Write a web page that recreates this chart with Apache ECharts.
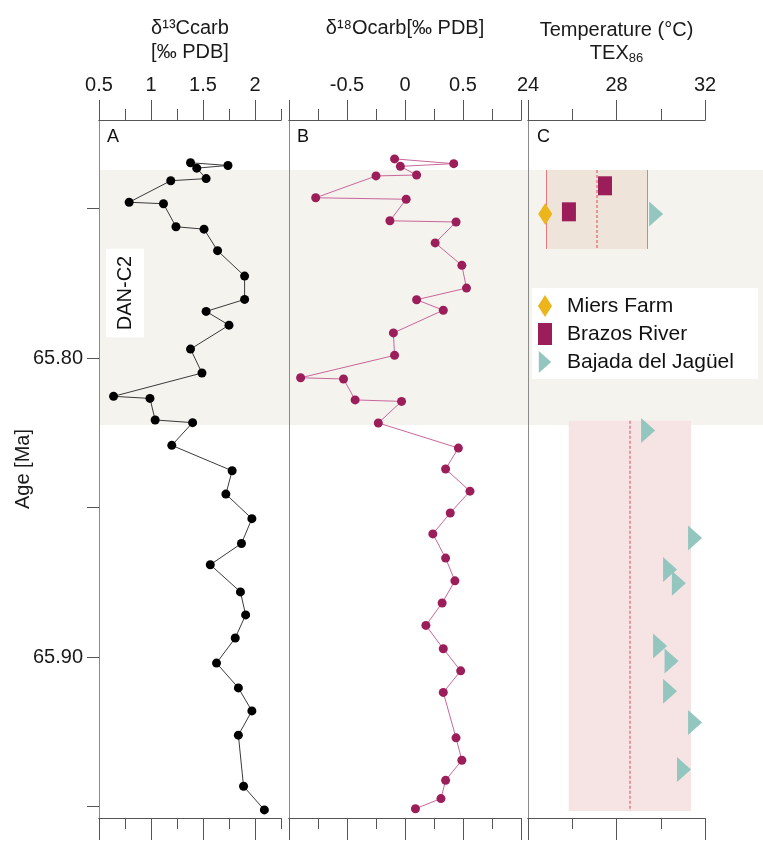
<!DOCTYPE html>
<html>
<head>
<meta charset="utf-8">
<script src="https://cdn.jsdelivr.net/npm/echarts@6/dist/echarts.min.js"></script>
<style>html,body{margin:0;padding:0;background:#fff}#c{width:763px;height:843px}</style>
</head>
<body>
<div id="c"></div>
<script>
// ---- Data ----
const ageC = [65.7347,65.7356,65.7365,65.7400,65.7407,65.7479,65.7484,65.7561,65.7569,65.7641,65.7726,65.7804,65.7844,65.7890,65.7970,65.8050,65.8128,65.8135,65.8207,65.8216,65.8292,65.8377,65.8455,65.8537,65.8620,65.8691,65.8782,65.8859,65.8936,65.9020,65.9103,65.9180,65.9261,65.9432,65.9511];
const d13C = [1.38,1.74,1.44,1.53,1.19,0.79,1.12,1.24,1.51,1.64,1.90,1.90,1.53,1.75,1.38,1.49,0.64,0.99,1.04,1.40,1.20,1.78,1.72,1.97,1.87,1.57,1.86,1.91,1.81,1.63,1.84,1.97,1.84,1.89,2.09];

const ageO = [65.7334,65.7350,65.7359,65.7388,65.7391,65.7464,65.7469,65.7541,65.7545,65.7615,65.7690,65.7766,65.7805,65.7840,65.7916,65.7991,65.8066,65.8070,65.8140,65.8145,65.8217,65.8301,65.8371,65.8445,65.8518,65.8588,65.8669,65.8745,65.8819,65.8894,65.8972,65.9046,65.9118,65.9270,65.9345,65.9412,65.9473,65.9507];
const d18O = [-0.09,0.42,-0.04,0.10,-0.25,-0.77,0.01,-0.13,0.44,0.26,0.49,0.53,0.10,0.33,-0.10,-0.09,-0.90,-0.53,-0.43,-0.03,-0.23,0.46,0.35,0.56,0.39,0.24,0.35,0.43,0.32,0.18,0.33,0.48,0.33,0.44,0.49,0.35,0.31,0.09];

const miersAge = [65.7518];
const miersT = [24.78];
const brazosAge = [65.7424, 65.7511];
const brazosT = [27.48, 25.85];
const bajadaAge = [65.7518,65.8242,65.8602,65.8707,65.8753,65.8963,65.9013,65.9114,65.9219,65.9376];
const bajadaT = [29.79,29.43,31.55,30.42,30.82,29.97,30.49,30.42,31.55,31.05];

// TEX86 ranges: [tMin, tMean, tMax, ageTop, ageBottom]
const texUpper = [24.81, 27.09, 29.37, 65.7371, 65.7635];
const texLower = [25.84, 28.61, 31.37, 65.8210, 65.9515];

// DAN-C2 interval [ageTop, ageBottom]
const danC2 = [65.7371, 65.8224];

// Ticks
const ageRange = [65.7204, 65.9538];
const ageTicks = [65.75, 65.80, 65.85, 65.90, 65.95];
const ageLabels = [65.80, 65.90];
const cRange = [0.5, 2.25];
const cMajor = [0.5, 1, 1.5, 2];
const cMinor = [0.75, 1.25, 1.75, 2.25];
const cLabels = [0.5, 1, 1.5, 2];
const oRange = [-1, 1];
const oMajor = [-1, -0.5, 0, 0.5, 1];
const oMinor = [-0.75, -0.25, 0.25, 0.75];
const oLabels = [-0.5, 0, 0.5];
const tRange = [24, 32];
const tMajor = [24, 28, 32];
const tMinor = [26, 30];
const tLabels = [24, 28, 32];

// ---- Build ----
const FONT = "'Liberation Sans', Arial, sans-serif";
const AX = '#555';
const PANEL = '#8a8a8a';
const chart = echarts.init(document.getElementById('c'));

function xAxes(gridIndex, range, major, minor, labels, name, nameGap, nameRich) {
  const base = {
    type: 'value', gridIndex, min: range[0], max: range[1], z: 10,
    splitLine: {show: false},
    axisLine: {show: true, onZero: false, lineStyle: {color: AX, width: 1}},
  };
  const res = [];
  res.push(Object.assign({}, base, {
    position: 'top',
    name: name, nameLocation: 'middle', nameGap: nameGap,
    nameTextStyle: Object.assign({fontFamily: FONT, fontSize: 20, color: '#1a1a1a', lineHeight: 24}, nameRich ? {rich: nameRich} : {}),
    axisTick: {show: true, inside: false, length: 20, lineStyle: {color: AX}, customValues: major},
    axisLabel: {show: true, fontFamily: FONT, fontSize: 20, color: '#1a1a1a', margin: 25, customValues: labels,
      formatter: v => String(v)}
  }));
  res.push(Object.assign({}, base, {
    position: 'top',
    axisTick: {show: true, length: 11, lineStyle: {color: AX}, customValues: minor},
    axisLabel: {show: false}
  }));
  res.push(Object.assign({}, base, {
    position: 'bottom',
    axisTick: {show: true, length: 22, lineStyle: {color: AX}, customValues: major},
    axisLabel: {show: false}
  }));
  res.push(Object.assign({}, base, {
    position: 'bottom',
    axisTick: {show: true, length: 11, lineStyle: {color: AX}, customValues: minor},
    axisLabel: {show: false}
  }));
  return res;
}

const gridTop = 120, gridBottom = 25;
const grids = [
  {left: 99, width: 182, top: gridTop, bottom: gridBottom},
  {left: 289, width: 232, top: gridTop, bottom: gridBottom},
  {left: 528, width: 177, top: gridTop, bottom: gridBottom},
  {left: 100, right: 0, top: gridTop, bottom: gridBottom}
];

const xAxisList = [].concat(
  xAxes(0, cRange, cMajor, cMinor, cLabels, 'δ¹³Ccarb\n[‰ PDB]', 56),
  xAxes(1, oRange, oMajor, oMinor, oLabels, 'δ¹⁸Ocarb[‰ PDB]', 80),
  xAxes(2, tRange, tMajor, tMinor, tLabels, '{a|Temperature (°C)}\n{a|TEX}{b|86}', 55,
    {a: {fontFamily: FONT, fontSize: 20, color: '#1a1a1a', lineHeight: 23},
     b: {fontFamily: FONT, fontSize: 13, color: '#1a1a1a', lineHeight: 16, verticalAlign: 'bottom'}}),
  [{type: 'value', gridIndex: 3, min: 0, max: 1, show: false}]
);

const yBase = {type: 'value', min: ageRange[0], max: ageRange[1], inverse: true, splitLine: {show: false}, z: 10};
const yAxisList = [
  Object.assign({}, yBase, {gridIndex: 0,
    name: 'Age [Ma]', nameLocation: 'middle', nameGap: 66, nameMoveOverlap: false,
    nameTextStyle: {fontFamily: FONT, fontSize: 20, color: '#1a1a1a'},
    axisLine: {show: true, onZero: false, lineStyle: {color: PANEL}},
    axisTick: {show: true, length: 12, lineStyle: {color: AX}, customValues: ageTicks},
    axisLabel: {show: true, fontFamily: FONT, fontSize: 20, color: '#1a1a1a', margin: 16, customValues: ageLabels,
      formatter: v => v.toFixed(2)}}),
  Object.assign({}, yBase, {gridIndex: 1, axisLine: {show: true, onZero: false, lineStyle: {color: PANEL}}, axisTick: {show: false}, axisLabel: {show: false}}),
  Object.assign({}, yBase, {gridIndex: 2, axisLine: {show: true, onZero: false, lineStyle: {color: PANEL}}, axisTick: {show: false}, axisLabel: {show: false}}),
  Object.assign({}, yBase, {gridIndex: 3, show: false})
];

const triPath = 'path://M0,0L14,12.5L0,25Z';
const BOXLINE = '#e57b7f';

const series = [
  // DAN-C2 band spanning all panels
  {type: 'line', xAxisIndex: 12, yAxisIndex: 3, data: [], silent: true, z: 0,
   markArea: {silent: true, itemStyle: {color: '#f4f3ee'},
     data: [[{x: 100, yAxis: danC2[0]}, {x: 763, yAxis: danC2[1]}]]}},
  // Panel A
  {name: 'd13C', type: 'line', xAxisIndex: 0, yAxisIndex: 0, z: 4,
   data: ageC.map((a, i) => [d13C[i], a]),
   symbol: 'circle', symbolSize: 9, showAllSymbol: true,
   lineStyle: {color: '#3a3a3a', width: 1}, itemStyle: {color: '#000'}, animation: false},
  // Panel B
  {name: 'd18O', type: 'line', xAxisIndex: 4, yAxisIndex: 1, z: 4,
   data: ageO.map((a, i) => [d18O[i], a]),
   symbol: 'circle', symbolSize: 9, showAllSymbol: true,
   lineStyle: {color: '#c9679a', width: 1}, itemStyle: {color: '#9b1d5a'}, animation: false},
  // Panel C boxes
  {type: 'line', xAxisIndex: 8, yAxisIndex: 2, data: [], silent: true, z: 2,
   markArea: {silent: true, data: [
     [{coord: [texUpper[0], texUpper[3]], itemStyle: {color: '#eee4d9'}}, {coord: [texUpper[2], texUpper[4]]}],
     [{coord: [texLower[0], texLower[3]], itemStyle: {color: '#f6e4e4'}}, {coord: [texLower[2], texLower[4]]}]
   ]},
   markLine: {silent: true, symbol: 'none', label: {show: false}, animation: false,
     data: [
       [{coord: [texUpper[0], texUpper[3]], lineStyle: {color: BOXLINE, width: 1, type: 'solid'}}, {coord: [texUpper[0], texUpper[4]]}],
       [{coord: [texUpper[2], texUpper[3]], lineStyle: {color: BOXLINE, width: 1, type: 'solid'}}, {coord: [texUpper[2], texUpper[4]]}],
       [{coord: [texUpper[1], texUpper[3]], lineStyle: {color: BOXLINE, width: 1.5, type: [3, 2]}}, {coord: [texUpper[1], texUpper[4]]}],
       [{coord: [texLower[1], texLower[3]], lineStyle: {color: BOXLINE, width: 1.5, type: [3, 2]}}, {coord: [texLower[1], texLower[4]]}]
     ]}},
  {name: 'Miers Farm', type: 'scatter', xAxisIndex: 8, yAxisIndex: 2, z: 5,
   data: miersAge.map((a, i) => [miersT[i], a]), symbol: 'diamond', symbolSize: [14, 22],
   itemStyle: {color: '#ebb51b', opacity: 1}, animation: false},
  {name: 'Brazos River', type: 'scatter', xAxisIndex: 8, yAxisIndex: 2, z: 5,
   data: brazosAge.map((a, i) => [brazosT[i], a]), symbol: 'rect', symbolSize: [14, 19],
   itemStyle: {color: '#9b1d5a', opacity: 1}, animation: false},
  {name: 'Bajada del Jagüel', type: 'scatter', xAxisIndex: 8, yAxisIndex: 2, z: 5,
   data: bajadaAge.map((a, i) => [bajadaT[i], a]), symbol: triPath, symbolSize: [14, 25], symbolKeepAspect: false,
   itemStyle: {color: '#93c6bf', opacity: 1}, animation: false}
];

chart.setOption({
  animation: false,
  grid: grids,
  xAxis: xAxisList,
  yAxis: yAxisList,
  legend: {
    data: [
      {name: 'Miers Farm', itemStyle: {opacity: 1}},
      {name: 'Brazos River', itemStyle: {opacity: 1}},
      {name: 'Bajada del Jagüel', itemStyle: {opacity: 1}}
    ],
    orient: 'vertical', left: 532, top: 288,
    backgroundColor: '#fff', padding: [7, 24, 6, 6],
    itemWidth: 14, itemHeight: 22, itemGap: 6,
    textStyle: {fontFamily: FONT, fontSize: 21, color: '#111', padding: [0, 0, 0, 10]},
    selectedMode: false
  },
  graphic: [
    {type: 'text', left: 107, top: 128, z: 20, style: {text: 'A', fontFamily: FONT, fontSize: 18, fill: '#111'}},
    {type: 'text', left: 297, top: 128, z: 20, style: {text: 'B', fontFamily: FONT, fontSize: 18, fill: '#111'}},
    {type: 'text', left: 537, top: 128, z: 20, style: {text: 'C', fontFamily: FONT, fontSize: 18, fill: '#111'}},
    {type: 'text', x: 125, y: 293, rotation: Math.PI / 2, z: 20,
     style: {text: 'DAN-C2', fontFamily: FONT, fontSize: 20, fill: '#111', align: 'center', verticalAlign: 'middle',
       backgroundColor: '#fff', padding: [9, 7]}}
  ],
  series: series
});
</script>
</body>
</html>
